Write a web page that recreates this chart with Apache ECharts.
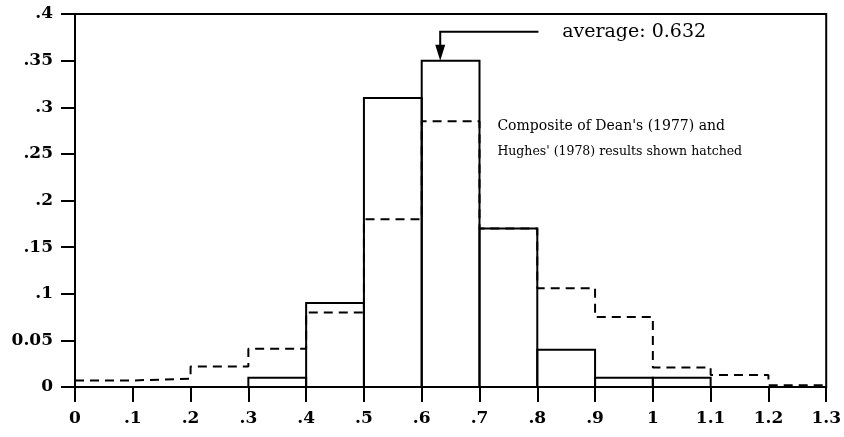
<!DOCTYPE html>
<html>
<head>
<meta charset="utf-8">
<script src="https://cdn.jsdelivr.net/npm/echarts@6/dist/echarts.min.js"></script>
<style>html,body{margin:0;padding:0;background:#fff}#c{width:844px;height:437px}</style>
</head>
<body>
<div id="c"></div>
<script>
const binEdges = [0, 0.1, 0.2, 0.3, 0.4, 0.5, 0.6, 0.7, 0.8, 0.9, 1.0, 1.1, 1.2, 1.3];
const solidValues = [0, 0, 0, 0.01, 0.09, 0.31, 0.35, 0.17, 0.04, 0.01, 0.01, 0, 0];
const dashedValues = [0.007, 0.009, 0.022, 0.041, 0.08, 0.18, 0.285, 0.17, 0.106, 0.075, 0.021, 0.013, 0.002];
const xTickLabels = ['0', '.1', '.2', '.3', '.4', '.5', '.6', '.7', '.8', '.9', '1', '1.1', '1.2', '1.3'];
const yTickLabels = ['0', '0.05', '.1', '.15', '.2', '.25', '.3', '.35', '.4'];
const averageValue = 0.632;
const averageLabel = 'average: 0.632';
const noteLines = ["Composite of Dean's (1977) and", "Hughes' (1978) results shown hatched"];

const FONT = 'DejaVu Serif';
const noteFonts = ['14px "DejaVu Serif"', '12.5px "DejaVu Serif"'];
const chart = echarts.init(document.getElementById('c'), null, {renderer: 'canvas'});

const solidData = solidValues.map((v, i) => [binEdges[i], binEdges[i + 1], v]);
const dashedData = binEdges.map((x, i) => [x, dashedValues[Math.min(i, dashedValues.length - 1)]]);

chart.setOption({
  animation: false,
  backgroundColor: '#fff',
  grid: {left: 75, right: 17, top: 14, bottom: 50, show: true, borderColor: '#000', borderWidth: 2, backgroundColor: 'transparent'},
  xAxis: {
    type: 'value', min: 0, max: 1.3, interval: 0.1,
    axisLine: {show: true, onZero: false, lineStyle: {color: '#000', width: 2}},
    axisTick: {show: true, inside: false, length: 15, lineStyle: {color: '#000', width: 2}},
    axisLabel: {
      margin: 23, color: '#000', fontFamily: FONT, fontSize: 17, fontWeight: 'bold',
      formatter: (v) => xTickLabels[Math.round(v * 10)]
    },
    splitLine: {show: false}
  },
  yAxis: {
    type: 'value', min: 0, max: 0.4, interval: 0.05,
    axisLine: {show: true, lineStyle: {color: '#000', width: 2}},
    axisTick: {show: true, inside: false, length: 14, lineStyle: {color: '#000', width: 2}},
    axisLabel: {
      margin: 22, color: '#000', fontFamily: FONT, fontSize: 17, fontWeight: 'bold',
      formatter: (v) => yTickLabels[Math.round(v * 20)]
    },
    splitLine: {show: false}
  },
  series: [
    {
      type: 'custom',
      clip: false,
      data: solidData,
      renderItem: (params, api) => {
        const p0 = api.coord([api.value(0), api.value(2)]);
        const p1 = api.coord([api.value(1), 0]);
        return {
          type: 'rect',
          shape: {x: p0[0], y: p0[1], width: p1[0] - p0[0], height: p1[1] - p0[1]},
          style: {fill: 'none', stroke: '#000', lineWidth: 2}
        };
      },
      z: 3
    },
    {
      type: 'line',
      step: 'end',
      data: dashedData,
      symbol: 'none',
      lineStyle: {color: '#000', width: 2, type: [9, 6]},
      z: 2
    },
    {
      type: 'custom',
      clip: false,
      data: [[averageValue, 0.35, 0.381, 0.802, 0.843]],
      renderItem: (params, api) => {
        const tip = api.coord([api.value(0), api.value(1)]);
        const corner = api.coord([api.value(0), api.value(2)]);
        const end = api.coord([api.value(3), api.value(2)]);
        const txt = api.coord([api.value(4), api.value(2)]);
        return {
          type: 'group',
          children: [
            {type: 'polyline', shape: {points: [end, corner, [tip[0], tip[1] - 12]]}, style: {stroke: '#000', lineWidth: 2, fill: 'none'}},
            {type: 'polygon', shape: {points: [[tip[0] - 5, tip[1] - 16], [tip[0] + 5, tip[1] - 16], [tip[0], tip[1]]]}, style: {fill: '#000'}},
            {type: 'text', x: txt[0], y: txt[1], style: {text: averageLabel, fill: '#000', font: '19px "DejaVu Serif"', align: 'left', verticalAlign: 'middle'}}
          ]
        };
      },
      z: 5
    },
    {
      type: 'custom',
      clip: false,
      data: [[0.731, 0.28, 0], [0.731, 0.252, 1]],
      renderItem: (params, api) => {
        const p = api.coord([api.value(0), api.value(1)]);
        const k = api.value(2);
        return {
          type: 'text', x: p[0], y: p[1],
          style: {text: noteLines[k], fill: '#000', font: noteFonts[k], align: 'left', verticalAlign: 'middle'}
        };
      },
      z: 5
    }
  ]
});
</script>
</body>
</html>
